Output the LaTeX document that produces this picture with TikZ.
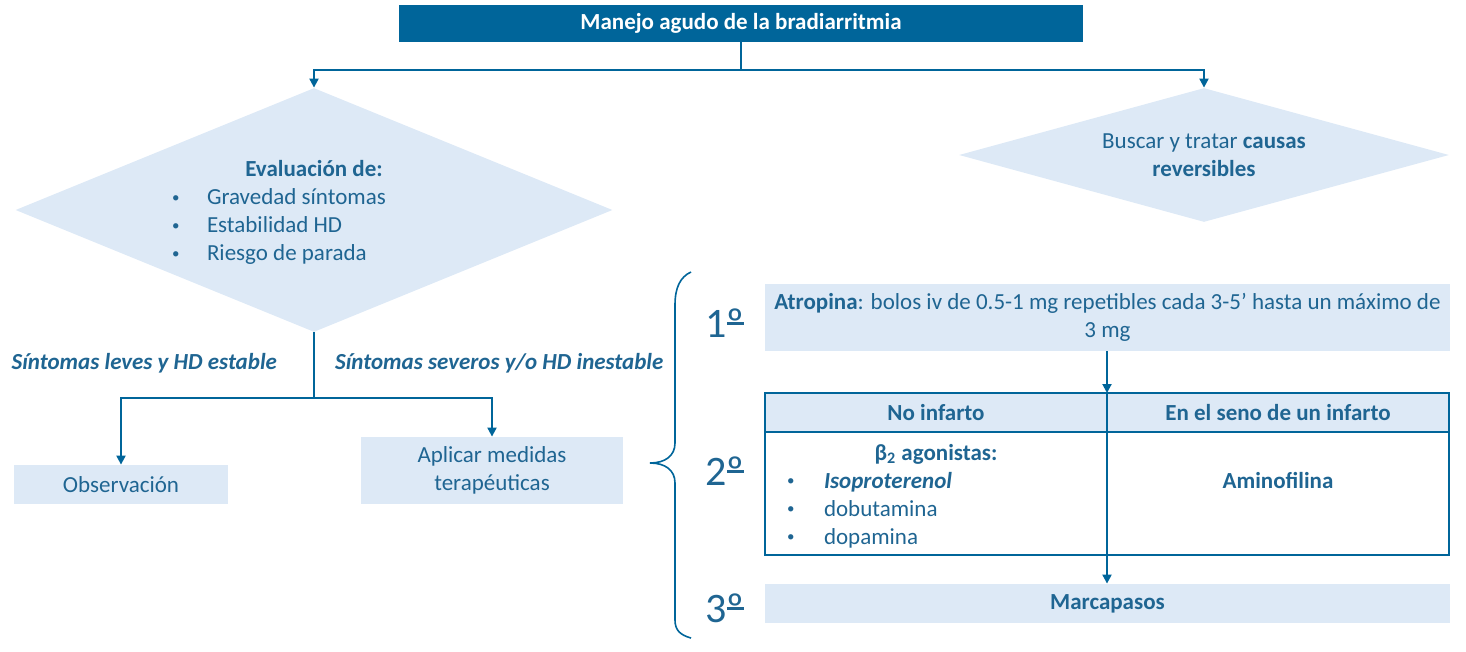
\documentclass[tikz,border=0pt]{standalone}
\usepackage{fontspec}
\setmainfont{Carlito}
\usepackage{xcolor}
\usetikzlibrary{positioning,shapes.geometric,arrows.meta}

\definecolor{darkblue}{HTML}{00659A}
\definecolor{textblue}{HTML}{1F6592}
\definecolor{lightblue}{HTML}{DDE9F6}

\newcommand{\itembul}{\raisebox{0.1em}{\scalebox{0.65}{•}}}
\newcommand{\ordo}{\makebox[0pt][l]{\rule[0.3em]{0.4em}{0.06em}}º}
\newcommand{\lowerby}[1]{\raisebox{0pt}[\dimexpr\height+3pt\relax][\depth]{#1}}

\begin{document}
\begin{tikzpicture}[
    x=0.5pt, y=0.5pt,
    font=\fontsize{11.5}{14}\selectfont,
    text=textblue,
    titlebox/.style={
        fill=darkblue,
        text=white,
        font=\fontsize{11.5}{14}\selectfont\bfseries,
        minimum width=342pt,
        minimum height=18.5pt,
        inner sep=0pt
    },
    decision/.style={
        diamond,
        fill=lightblue,
        inner sep=0pt,
        align=center
    },
    block/.style={
        fill=lightblue,
        inner sep=0pt,
        align=center
    },
    cell/.style={
        draw=darkblue,
        line width=1pt,
        inner sep=0pt,
        outer sep=0pt,
        minimum width=171pt,
        align=center
    },
    arrow/.style={-{Triangle[length=4.5pt,width=4.5pt]}, draw=darkblue, line width=1pt},
    branch/.style={font=\fontsize{11.5}{14}\selectfont\bfseries\itshape},
    ordinal/.style={font=\fontsize{21}{24}\selectfont},
    bracket/.style={draw=darkblue, line width=0.8pt}
]

\useasboundingbox (0,0) rectangle (1466,-652);

\node[titlebox] (title) at (741,-23.5) {Manejo agudo de la bradiarritmia};

\node[decision, aspect=2.45, minimum width=298.5pt, minimum height=122pt] (evalua) at (314,-210) {%
    \lowerby{\begin{tabular}{@{}p{17.5pt}@{}p{124.5pt}@{}}
    \multicolumn{2}{@{}c@{}}{\textbf{Evaluación de:}}\\
    \itembul & Gravedad síntomas\\
    \itembul & Estabilidad HD\\
    \itembul & Riesgo de parada
    \end{tabular}}};
\node[decision, aspect=3.66, minimum width=245pt, minimum height=67pt] (causas) at (1204,-155)
    {Buscar y tratar \textbf{causas}\\\textbf{reversibles}};

\draw[arrow] (title.south) -- ++(0,-28) -| (evalua.north);
\draw[arrow] (title.south) -- ++(0,-28) -| (causas.north);

\node[block, minimum width=107pt, minimum height=19.5pt] (observ) at (121,-484.5) {Observación};
\node[block, minimum width=131pt, minimum height=33.5pt] (aplicar) at (492,-470.5) {Aplicar medidas\\terapéuticas};

\draw[arrow] (evalua.south) -- ++(0,-66) -| (observ.north);
\draw[arrow] (evalua.south) -- ++(0,-66) -| (aplicar.north);

\node[branch, anchor=east] (leves) at (284,-363) {Síntomas leves y HD estable};
\node[branch, anchor=west] (severos) at (328,-363) {Síntomas severos y/o HD inestable};

\draw[bracket] (691,-272) .. controls (680,-277) and (675,-288) .. (675,-305)
    -- (675,-443) .. controls (675,-456) and (665,-463) .. (650,-463)
    .. controls (665,-463) and (675,-470) .. (675,-483)
    -- (675,-620) .. controls (675,-630) and (680,-635) .. (691,-638);

\node[ordinal] (paso1) at (725,-323) {1\ordo};
\node[ordinal] (paso2) at (725,-471) {2\ordo};
\node[ordinal] (paso3) at (725,-608) {3\ordo};

\node[block, minimum width=342.5pt, minimum height=33.5pt] (atropina) at (1107.5,-317.5)
    {\textbf{Atropina}: bolos iv de 0.5-1 mg repetibles cada 3-5’ hasta un máximo de\\3 mg};

\node[cell, fill=lightblue, minimum height=19.5pt] (noinf) at (936,-412.5) {\textbf{No infarto}};
\node[cell, fill=lightblue, minimum height=19.5pt, right=0pt of noinf] (siinf) {\textbf{En el seno de un infarto}};
\node[cell, minimum height=61.5pt, below=0pt of noinf] (bodyA) {%
    \lowerby{\begin{tabular}{@{}p{18.5pt}@{}p{130.5pt}@{}}
    \multicolumn{2}{@{}c@{}}{\textbf{β\textsubscript{2} agonistas:}}\\
    \itembul & \textbf{\textit{Isoproterenol}}\\
    \itembul & dobutamina\\
    \itembul & dopamina
    \end{tabular}}};
\node[cell, minimum height=61.5pt, below=0pt of siinf] (bodyB) {%
    \lowerby{\begin{tabular}{@{}c@{}}
    \\
    \textbf{Aminofilina}\\
    \\
    \\
    \end{tabular}}};

\node[block, minimum width=342.5pt, minimum height=19.5pt] (marca) at (1107.5,-603.5) {\textbf{Marcapasos}};

\draw[arrow] (atropina.south -| noinf.north east) -- (noinf.north east);
\draw[arrow] (bodyA.south east) -- (bodyA.south east |- marca.north);

\end{tikzpicture}
\end{document}
